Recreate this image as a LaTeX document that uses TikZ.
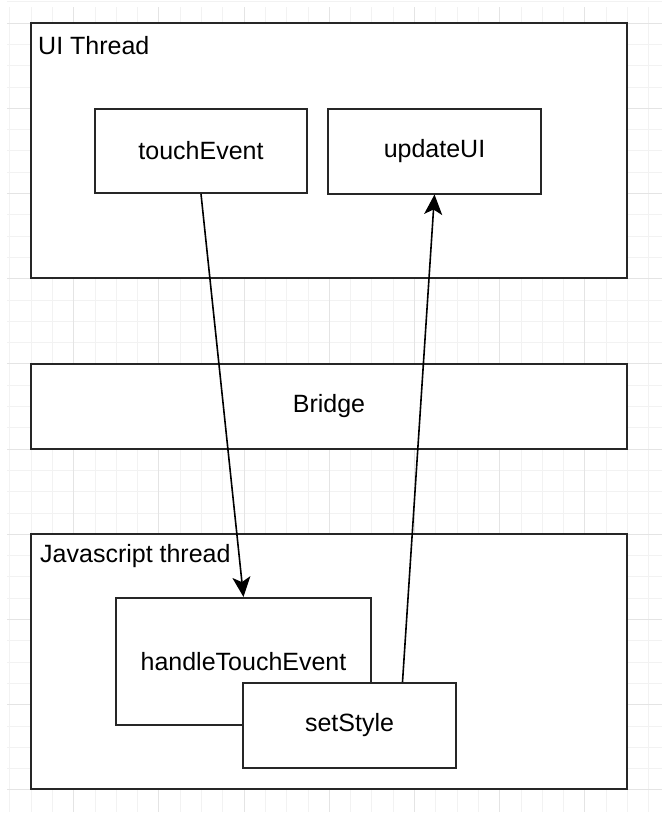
\documentclass[tikz,border=0pt]{standalone}
\usepackage{fontspec}
\setmainfont{Liberation Sans}
\usepackage{xcolor}
\usetikzlibrary{arrows.meta,positioning}
\definecolor{gridminor}{HTML}{F2F2F2}
\definecolor{gridmajor}{HTML}{E4E4E4}

\begin{document}
\begin{tikzpicture}[
x=1pt, y=-1pt,
node distance=84pt and 19pt,
frame/.style={draw=black!85, line width=2pt, fill=white, minimum width=596pt, inner sep=0pt},
box/.style={draw=black!85, line width=2pt, fill=white, font=\fontsize{25}{30}\selectfont, inner sep=0pt, minimum width=213pt, minimum height=85pt},
title/.style={anchor=west, font=\fontsize{25}{30}\selectfont, inner sep=0pt},
arr/.style={-{Stealth[length=20pt, width=18pt, inset=5pt]}, line width=1.6pt}
]
\useasboundingbox (0,0) rectangle (662,814);
\foreach \i in {0,...,30} {
  \draw[gridminor, line width=0.8pt] (9.7+21.3*\i,7) -- (9.7+21.3*\i,812);
}
\foreach \j in {0,...,37} {
  \draw[gridminor, line width=0.8pt] (7,1.7+21.3*\j) -- (662,1.7+21.3*\j);
}
\foreach \i in {0,...,7} {
  \draw[gridmajor, line width=0.8pt] (73.6+85.2*\i,7) -- (73.6+85.2*\i,812);
}
\foreach \j in {0,...,9} {
  \draw[gridmajor, line width=0.8pt] (7,23+85.2*\j) -- (662,23+85.2*\j);
}

\node[frame, minimum height=255pt] (uithread) at (329,150.5) {};
\node[frame, minimum height=85pt, below=of uithread, font=\fontsize{25}{30}\selectfont] (bridge) {Bridge};
\node[frame, minimum height=255pt, below=83pt of bridge] (jsthread) {};
\node[title] (uilabel) at (38,46) {UI Thread};
\node[title] (jslabel) at (40,556) {Javascript thread};

\node[box, minimum width=212pt, minimum height=84pt] (touchevent) at (201,151) {touchEvent};
\node[box, right=of touchevent] (updateui) {updateUI};
\node[box, minimum width=255pt, minimum height=127pt] (handletouch) at (243.5,661.5) {handleTouchEvent};
\node[box] (setstyle) at (349.5,725.5) {setStyle};

\draw[arr] (touchevent.south) -- (handletouch.north);
\draw[arr] ([xshift=53pt]setstyle.north) -- (updateui.south);
\end{tikzpicture}
\end{document}
